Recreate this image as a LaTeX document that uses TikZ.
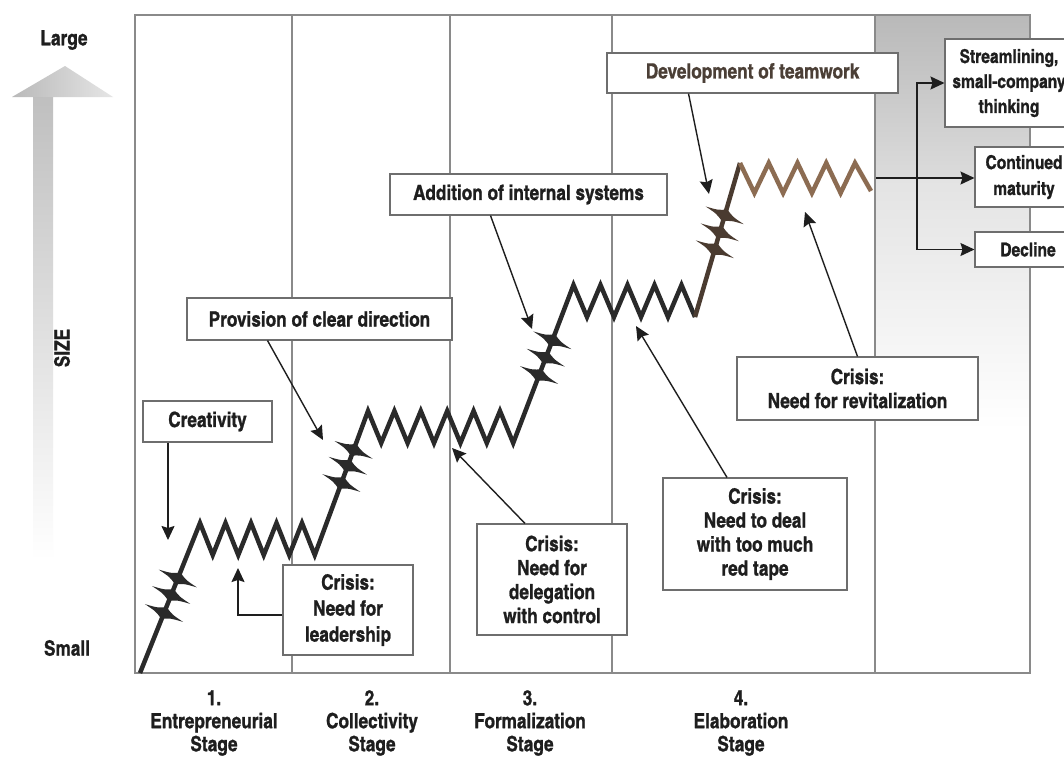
\documentclass[tikz,border=0pt]{standalone}
\usepackage{fontspec}
\setmainfont{texgyreheroscn-bold.otf}[FakeBold=1]
\usetikzlibrary{arrows.meta,calc}
\definecolor{ink}{HTML}{1E1E1E}
\definecolor{framec}{HTML}{8A8A8A}
\definecolor{zig}{HTML}{2A2A2A}
\definecolor{bronze}{HTML}{8C6C52}
\definecolor{darkbronze}{HTML}{4A3B30}
\definecolor{teamtext}{HTML}{4B3F36}
\tikzset{
 lbl/.style={font=\fontsize{21}{24}\selectfont, text=ink, align=center, inner sep=0pt},
 stg/.style={font=\fontsize{21}{23}\selectfont, text=ink, align=center, inner sep=0pt},
 box/.style={draw=framec!80!black, line width=1.1pt, fill=white, font=\fontsize{21}{24}\selectfont, text=ink, align=center, inner sep=0pt},
 rbox/.style={box, font=\fontsize{19}{25}\selectfont},
 conn/.style={draw=ink, line width=1.4pt, -{Stealth[length=14pt,width=13pt,inset=2pt]}},
 zz/.style={line width=4.5pt, line join=miter, miter limit=10},
 spike/.pic={\fill (-21,0) .. controls (-8,-2) .. (0,-6.5) .. controls (8,-2) .. (21,0) .. controls (8,2) .. (0,6.5) .. controls (-8,2) .. (-21,0) -- cycle;},
}
\begin{document}
\begin{tikzpicture}[x=1pt,y=-1pt]
\useasboundingbox (0,0) rectangle (1064,760);
\fill[white] (0,0) rectangle (1064,760);
% right shaded region
\shade[top color=gray!55, bottom color=gray!28] (875,15) rectangle (1030,178);
\shade[top color=gray!22, bottom color=white] (875,178) rectangle (1030,430);
% size arrow
\shade[top color=gray!50, bottom color=white] (33,96) rectangle (53,560);
\shade[left color=gray!55, right color=gray!20] (12,97) -- (65,66) -- (113,97) -- cycle;
\node[lbl] (large) at (64,40) {Large};
\node[lbl] (small) at (67,648) {Small};
\node[lbl, rotate=90] (size) at (62,348) {SIZE};
% frame
\draw[framec, line width=1.2pt] (135,15) rectangle (1030,673);
\foreach \x in {292,450,612,875} \draw[framec, line width=1.2pt] (\x,15) -- (\x,673);
% stage labels
\node[stg] (st1) at (214,723) {1.\\Entrepreneurial\\Stage};
\node[stg] (st2) at (372,723) {2.\\Collectivity\\Stage};
\node[stg] (st3) at (530,723) {3.\\Formalization\\Stage};
\node[stg] (st4) at (741,723) {4.\\Elaboration\\Stage};
% growth line
\draw[zz, zig] (140,673) -- (200,523) -- (212.75,555) -- (225.5,523) -- (238.25,555) -- (251,523) -- (263.75,555) -- (276.5,523) -- (289.25,555) -- (302,523) -- (314.75,555)
 -- (368,411) -- (381.2,443) -- (394.4,411) -- (407.6,443) -- (420.8,411) -- (434,443) -- (447.2,411) -- (460.4,443) -- (473.6,411) -- (486.8,443) -- (500,411) -- (513.2,443)
 -- (573.5,285) -- (587,317) -- (600.5,285) -- (614,317) -- (627.5,285) -- (641,317) -- (654.5,285) -- (668,317) -- (681.5,285) -- (695,317);
\draw[zz, darkbronze] (695,317) -- (740,163);
\draw[zz, bronze] (740,163) -- (754.4,193) -- (768.75,163) -- (783.1,193) -- (797.5,163) -- (811.9,193) -- (826.25,163) -- (840.6,193) -- (855,163) -- (871,191);
% spikes
\coordinate (a1) at (140,673); \coordinate (b1) at (200,523);
\coordinate (a2) at (314.75,555); \coordinate (b2) at (368,411);
\coordinate (a3) at (513.2,443); \coordinate (b3) at (573.5,285);
\coordinate (a4) at (695,317); \coordinate (b4) at (740,163);
\foreach \t in {0.40,0.52,0.63} \pic[rotate=-25, fill=zig] at ($(a1)!\t!(b1)$) {spike};
\foreach \t in {0.50,0.62,0.73} \pic[rotate=-25, fill=zig] at ($(a2)!\t!(b2)$) {spike};
\foreach \t in {0.43,0.54,0.65} \pic[rotate=-25, fill=zig] at ($(a3)!\t!(b3)$) {spike};
\foreach \t in {0.44,0.55,0.66} \pic[rotate=-25, fill=darkbronze] at ($(a4)!\t!(b4)$) {spike};
% boxes
\node[box, minimum width=129pt, minimum height=41pt] (creat) at (207.5,421.5) {Creativity};
\node[box, minimum width=130pt, minimum height=90pt, font=\fontsize{21}{26}\selectfont] (lead) at (348,610) {Crisis:\\Need for\\leadership};
\node[box, minimum width=265pt, minimum height=42pt] (prov) at (319.5,319) {Provision of clear direction};
\node[box, minimum width=150pt, minimum height=111pt] (deleg) at (552,579.5) {Crisis:\\Need for\\delegation\\with control};
\node[box, minimum width=184pt, minimum height=112pt] (redt) at (755,534) {Crisis:\\Need to deal\\with too much\\red tape};
\node[box, minimum width=241pt, minimum height=63pt] (revit) at (857.5,388.5) {Crisis:\\Need for revitalization};
\node[box, minimum width=277pt, minimum height=41pt] (addit) at (528.5,194.5) {Addition of internal systems};
\node[box, minimum width=291pt, minimum height=40pt, text=teamtext] (devel) at (752.5,73) {Development of teamwork};
\node[rbox, minimum width=128pt, minimum height=88pt] (stream) at (1009,83) {Streamlining,\\small-company\\thinking};
\node[rbox, minimum width=98pt, minimum height=60pt, font=\fontsize{19}{26}\selectfont] (cont) at (1024,177) {Continued\\maturity};
\node[rbox, minimum width=106pt, minimum height=35pt] (decl) at (1028,249.5) {Decline};
% connector tips
\coordinate (tC) at (168,540);
\coordinate (tL) at (238,568);
\coordinate (tP) at (323,440);
\coordinate (tD) at (452,448);
\coordinate (tR) at (636,326);
\coordinate (tV) at (805,212);
\coordinate (tA) at (532,329);
\coordinate (tT) at (709,194);
\coordinate (br) at (876,178);
\coordinate (brx) at (917,178);
% connectors
\draw[conn] (creat.south -| tC) -- (tC);
\draw[conn] ([yshift=-5pt]lead.west) -| (tL);
\draw[conn] ([xshift=-52pt]prov.south) -- (tP);
\draw[conn] ([xshift=-27pt]deleg.north) -- (tD);
\draw[conn] ([xshift=-28pt]redt.north) -- (tR);
\draw[conn] (revit.north) -- (tV);
\draw[conn] ([xshift=-38pt]addit.south) -- (tA);
\draw[conn] ([xshift=-64pt]devel.south) -- (tT);
\draw[conn] (br) -- (cont.west |- br);
\draw[conn] (brx) |- (stream.west);
\draw[conn] (brx) |- (decl.west);
\end{tikzpicture}
\end{document}
